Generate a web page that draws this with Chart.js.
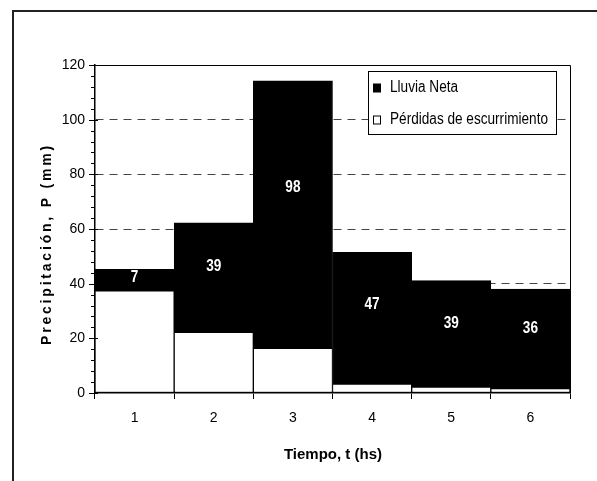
<!DOCTYPE html>
<html><head><meta charset="utf-8">
<script src="https://cdn.jsdelivr.net/npm/chart.js@4.4.1/dist/chart.umd.min.js"></script>
<style>html,body{margin:0;padding:0;background:#fff;}#wrap{width:597px;height:481px;}</style>
</head><body><div id="wrap"><canvas id="c" width="597" height="481"></canvas></div>
<script>
const categories = ['1','2','3','4','5','6'];
const losses = [37.4, 22.2, 16.3, 3.3, 2.2, 1.6];
const netRain = [7.8, 40.1, 97.9, 48.2, 38.9, 36.4];
const netLabels = ['7','39','98','47','39','36'];
const seriesNames = ['Pérdidas de escurrimiento', 'Lluvia Neta'];
const yMin = 0, yMax = 120, yStep = 20, yMinorStep = 4;
const xTitle = 'Tiempo, t (hs)';
const yTitle = 'Precipitación, P (mm)';

const FONT = "'Liberation Sans', Arial, sans-serif";

const deco = {
  id: 'deco',
  afterDatasetsDraw(chart) {
    const ctx = chart.ctx;
    const meta = chart.getDatasetMeta(1);
    ctx.save();
    ctx.fillStyle = '#fff';
    ctx.font = 'bold 16px ' + FONT;
    ctx.textAlign = 'center';
    ctx.textBaseline = 'middle';
    meta.data.forEach((bar, i) => {
      const y = bar.base - (bar.base - bar.y) * 0.6;
      ctx.save(); ctx.translate(bar.x, y); ctx.scale(0.85, 1);
      ctx.fillText(netLabels[i], 0, 0); ctx.restore();
    });
    ctx.restore();
  },
  afterDraw(chart) {
    const ctx = chart.ctx, a = chart.chartArea, ys = chart.scales.y;
    ctx.save();
    // outer frame
    ctx.strokeStyle = '#222'; ctx.lineWidth = 2;
    ctx.beginPath(); ctx.moveTo(13, 481); ctx.lineTo(13, 11); ctx.lineTo(597, 11); ctx.stroke();
    // plot top/right border
    ctx.strokeStyle = '#000'; ctx.lineWidth = 1;
    ctx.beginPath(); ctx.moveTo(a.left, a.top + 0.5); ctx.lineTo(a.right + 0.5, a.top + 0.5); ctx.lineTo(a.right + 0.5, a.bottom); ctx.stroke();
    // y ticks
    ctx.beginPath();
    for (let v = yMin; v <= yMax; v += yMinorStep) {
      const py = Math.round(ys.getPixelForValue(v)) + 0.5;
      if (v % yStep === 0) { ctx.moveTo(a.left - 6, py); ctx.lineTo(a.left + 3, py); }
      else { ctx.moveTo(a.left - 4, py); ctx.lineTo(a.left, py); }
    }
    ctx.stroke();
    // legend
    const lx = 368.5, ly = 71.5, lw = 188, lh = 63;
    ctx.fillStyle = '#fff'; ctx.fillRect(lx, ly, lw, lh);
    ctx.strokeStyle = '#000'; ctx.strokeRect(lx, ly, lw, lh);
    const order = [1, 0];
    order.forEach((di, k) => {
      const ds = chart.data.datasets[di];
      const cy = 88 + k * 32;
      ctx.fillStyle = ds.backgroundColor;
      ctx.fillRect(373.5, cy - 4, 7, 8);
      ctx.strokeStyle = '#000'; ctx.strokeRect(373.5, cy - 4, 7, 8);
      ctx.fillStyle = '#000'; ctx.font = '16px ' + FONT;
      ctx.textAlign = 'left'; ctx.textBaseline = 'middle';
      ctx.save(); ctx.translate(390, cy); ctx.scale(0.85, 1); ctx.fillText(ds.label, 0, 0); ctx.restore();
    });
    // titles
    ctx.fillStyle = '#000';
    ctx.font = 'bold 15px ' + FONT;
    ctx.textAlign = 'center'; ctx.textBaseline = 'middle';
    ctx.fillText(xTitle, 333, 455);
    ctx.save();
    ctx.translate(47, 244); ctx.rotate(-Math.PI / 2);
    ctx.font = 'bold 14px ' + FONT;
    try { ctx.letterSpacing = '2.8px'; } catch (e) {}
    ctx.fillText(yTitle, 0, 0);
    ctx.restore();
    ctx.restore();
  }
};

new Chart(document.getElementById('c'), {
  type: 'bar',
  data: {
    labels: categories,
    datasets: [
      { label: seriesNames[0], data: losses, backgroundColor: '#fff', borderColor: '#000', borderWidth: 1, borderSkipped: false,
        categoryPercentage: 1, barPercentage: 1 },
      { label: seriesNames[1], data: netRain, backgroundColor: '#000', borderColor: '#000', borderWidth: 1, borderSkipped: false,
        categoryPercentage: 1, barPercentage: 1 }
    ]
  },
  options: {
    responsive: false, animation: false, devicePixelRatio: 1,
    layout: { padding: { top: 65, right: 27, left: 0, bottom: 0 } },
    plugins: { legend: { display: false }, tooltip: { enabled: false } },
    scales: {
      x: {
        stacked: true, offset: true,
        grid: { offset: true, drawOnChartArea: false, tickLength: 6, color: '#000', lineWidth: 1 },
        border: { color: '#000', width: 1.5 },
        ticks: { font: { family: FONT, size: 14 }, color: '#000', padding: 11 },
        afterFit(s) { s.height = 88; }
      },
      y: {
        stacked: true, min: yMin, max: yMax,
        ticks: { stepSize: yStep, font: { family: FONT, size: 14 }, color: '#000', padding: 10 },
        grid: { drawTicks: false, lineWidth: 1,
          color: c => (c.tick && (c.tick.value === yMin || c.tick.value === yMax)) ? 'rgba(0,0,0,0)' : '#444' },
        border: { color: '#000', width: 1.5, dash: [8, 6] },
        afterFit(s) { s.width = 95; }
      }
    }
  },
  plugins: [deco]
});
</script>
</body></html>
